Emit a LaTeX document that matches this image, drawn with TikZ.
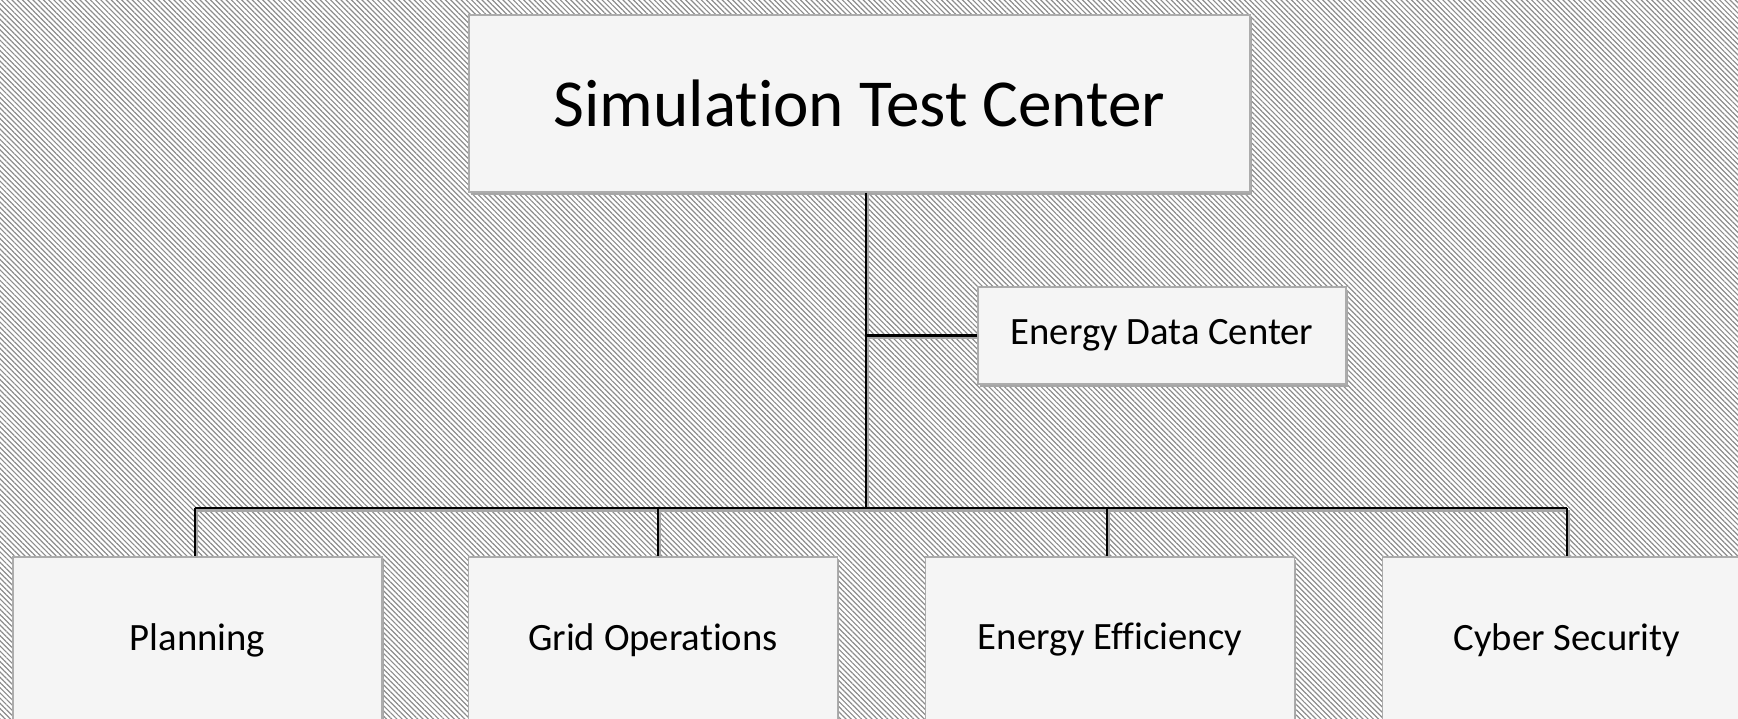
\documentclass[tikz,border=0pt]{standalone}
\usepackage{fontspec}
\setmainfont{Carlito}[Ligatures=CommonOff]
\usetikzlibrary{patterns.meta,shadows,calc}
\tikzset{
  unitbox/.style={rectangle, draw=gray!65, line width=0.5pt, fill=gray!8, inner sep=0pt,
    drop shadow={shadow xshift=0.5pt, shadow yshift=-0.8pt, fill=gray!70, opacity=1}},
  bigbox/.style={unitbox, minimum width=7.81cm, minimum height=1.77cm, font=\fontsize{19.1}{23}\selectfont},
  midbox/.style={unitbox, minimum width=3.68cm, minimum height=0.97cm, font=\fontsize{11}{13}\selectfont},
  lowbox/.style={unitbox, minimum width=3.69cm, minimum height=1.66cm, font=\fontsize{11}{13}\selectfont},
  link/.style={draw=black, line width=0.65pt,
    preaction={draw=gray!70, line width=0.9pt, transform canvas={xshift=0.4pt, yshift=-0.6pt}}}
}
\begin{document}
\begin{tikzpicture}[x=0.01cm,y=-0.01cm]
\useasboundingbox (0,0) rectangle (1738,719);
\clip (0,0) rectangle (1738,719);
\fill[white] (0,0) rectangle (1738,719);
\fill[pattern={Lines[angle=-45,distance=1.05pt,line width=0.34pt]}, pattern color=gray!90] (-10,-10) rectangle (1748,729);

\node[bigbox] (top) at (859.5,103.5) {Simulation Test Center};
\node[midbox] (edc) at (1162,335.5) {Energy Data Center};
\node[lowbox] (plan) at (197.5,640) {Planning};
\node[lowbox] (grid) at (653,640) {Grid Operations};
\node[lowbox] (eff) at (1110,640) {Energy Efficiency};
\node[lowbox] (cyber) at (1567,640) {Cyber Security};

\coordinate (trunk) at (866,508);
\coordinate (d1) at (195,508);
\coordinate (d2) at (658,508);
\coordinate (d3) at (1107,508);
\coordinate (d4) at (1567,508);

\draw[link] (top.south -| trunk) -- (trunk);
\draw[link] (edc.west -| trunk) -- (edc.west);
\draw[link] (d1) -- (d4);
\draw[link] (d1) -- (plan.north -| d1);
\draw[link] (d2) -- (grid.north -| d2);
\draw[link] (d3) -- (eff.north -| d3);
\draw[link] (d4) -- (cyber.north -| d4);
\end{tikzpicture}
\end{document}
